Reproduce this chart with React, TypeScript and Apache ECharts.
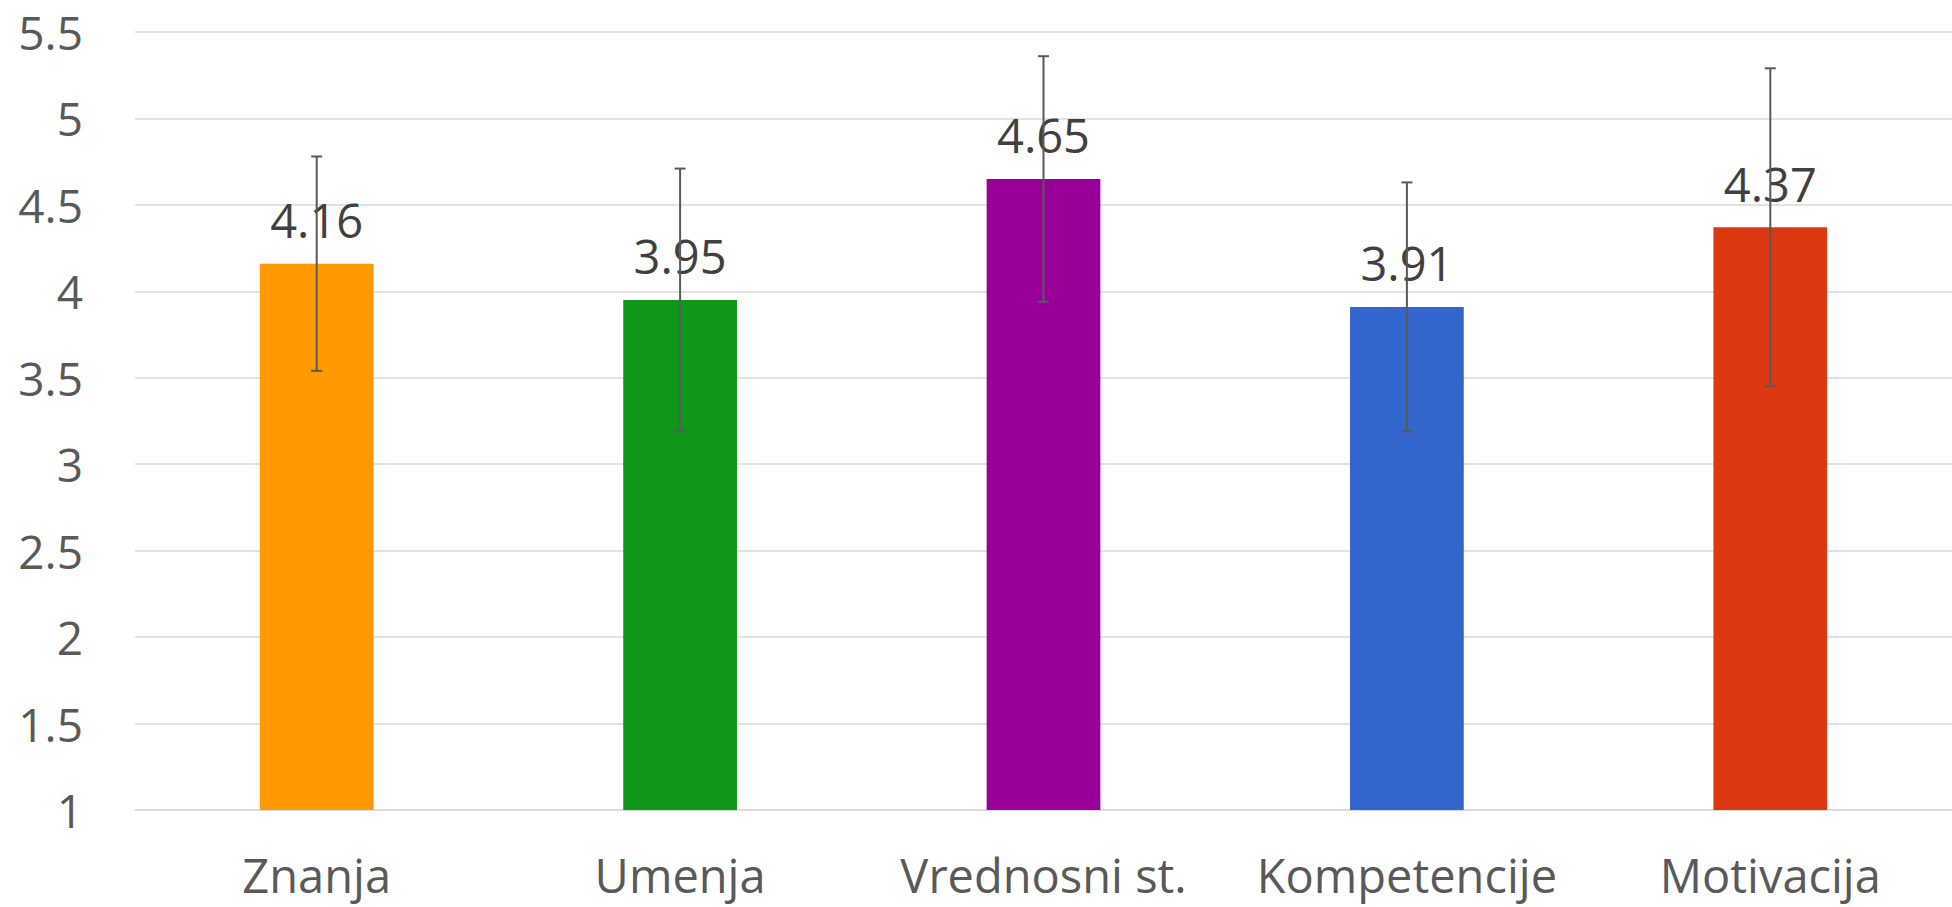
import React, { useEffect, useRef } from "react";
import * as echarts from "echarts";

const categories = ["Znanja", "Umenja", "Vrednosni st.", "Kompetencije", "Motivacija"];
const means = [4.16, 3.95, 4.65, 3.91, 4.37];
const errors = [0.62, 0.76, 0.71, 0.72, 0.92];
const barColors = ["#FF9900", "#109618", "#990099", "#3366CC", "#DC3912"];
const yTicks = { min: 1, max: 5.5, interval: 0.5 };

export default function App() {
  const ref = useRef<HTMLDivElement>(null);
  useEffect(() => {
    document.body.style.margin = "0";
    const chart = echarts.init(ref.current!, null, { renderer: "svg" });
    const font = "'Open Sans', 'Noto Sans', sans-serif";
    chart.setOption({
      animation: false,
      backgroundColor: "#ffffff",
      grid: { left: 135, right: 0, top: 32, bottom: 97, containLabel: false },
      xAxis: {
        type: "category",
        data: categories,
        axisLine: { show: true, lineStyle: { color: "#d9d9d9", width: 1.5 } },
        axisTick: { show: false },
        axisLabel: {
          color: "#595959",
          fontSize: 47,
          fontFamily: font,
          margin: 40,
          lineHeight: 50,
          interval: 0,
        },
      },
      yAxis: {
        type: "value",
        min: yTicks.min,
        max: yTicks.max,
        interval: yTicks.interval,
        axisLine: { show: false },
        axisTick: { show: false },
        splitLine: { lineStyle: { color: "#d9d9d9", width: 1.5 } },
        axisLabel: { color: "#595959", fontSize: 46, fontFamily: font, margin: 52 },
      },
      series: [
        {
          type: "bar",
          barWidth: "31.3%",
          data: means.map((v, i) => ({ value: v, itemStyle: { color: barColors[i] } })),
          label: {
            show: true,
            position: "top",
            distance: 20,
            color: "#404040",
            fontSize: 47,
            fontFamily: font,
            formatter: (p: any) => p.value.toFixed(2),
          },
          z: 2,
        },
        {
          type: "custom",
          data: means.map((m, i) => [i, m - errors[i], m + errors[i]]),
          encode: { x: 0, y: [1, 2] },
          z: 5,
          renderItem: (params: any, api: any) => {
            const idx = api.value(0);
            const lo = api.coord([idx, api.value(1)]);
            const hi = api.coord([idx, api.value(2)]);
            const hw = 5.5;
            const style = { stroke: "#595959", lineWidth: 2 };
            return {
              type: "group",
              children: [
                { type: "line", shape: { x1: hi[0], y1: hi[1], x2: lo[0], y2: lo[1] }, style },
                { type: "line", shape: { x1: hi[0] - hw, y1: hi[1], x2: hi[0] + hw, y2: hi[1] }, style },
                { type: "line", shape: { x1: lo[0] - hw, y1: lo[1], x2: lo[0] + hw, y2: lo[1] }, style },
              ],
            };
          },
        },
      ],
    });
    return () => chart.dispose();
  }, []);
  return <div ref={ref} style={{ width: 1952, height: 907 }} />;
}
